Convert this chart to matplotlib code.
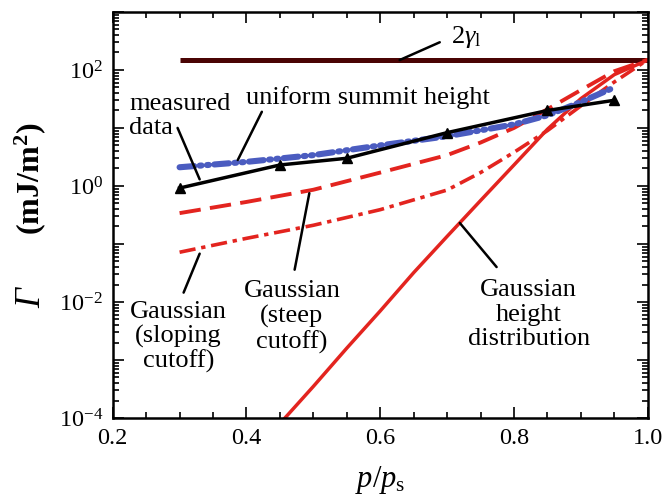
import matplotlib
matplotlib.use("Agg")
import matplotlib.pyplot as plt
import numpy as np
from matplotlib.ticker import LogLocator, FuncFormatter, MultipleLocator, NullFormatter

plt.rcParams['font.family'] = ['Liberation Serif', 'DejaVu Serif']
plt.rcParams['mathtext.fontset'] = 'custom'
plt.rcParams['mathtext.rm'] = 'Liberation Serif'
plt.rcParams['mathtext.it'] = 'Liberation Serif:italic'
plt.rcParams['mathtext.bf'] = 'Liberation Serif:bold'

# measured adhesion energy
p_meas = [0.30, 0.45, 0.55, 0.70, 0.85, 0.95]
g_meas = [0.92, 2.3, 3.0, 8.3, 20.0, 30.0]

# uniform summit height model
p_unif = [0.30, 0.40, 0.50, 0.60, 0.70, 0.80, 0.85, 0.90, 0.95]
g_unif = [2.1, 2.6, 3.4, 5.0, 7.2, 11.5, 16.5, 28.0, 50.0]

# Gaussian, steep cutoff
p_steep = [0.30, 0.40, 0.50, 0.60, 0.70, 0.75, 0.80, 0.85, 0.90, 0.95, 1.00]
g_steep = [0.34, 0.53, 0.86, 1.7, 3.4, 5.6, 10.0, 21.0, 45.0, 95.0, 150.0]

# Gaussian, sloping cutoff
p_slope = [0.30, 0.40, 0.50, 0.60, 0.70, 0.75, 0.80, 0.85, 0.90, 0.95, 1.00]
g_slope = [0.072, 0.125, 0.21, 0.39, 0.85, 1.7, 3.8, 9.0, 24.0, 62.0, 150.0]

# Gaussian height distribution
p_gauss = [0.45, 0.50, 0.55, 0.60, 0.65, 0.70, 0.75, 0.80, 0.85, 0.90, 0.95, 1.00]
g_gauss = [8e-5, 3.5e-4, 1.6e-3, 7e-3, 0.032, 0.135, 0.56, 2.3, 9.5, 32.0, 83.0, 148.0]

# 2 x liquid surface tension
p_gamma = [0.30, 1.00]
g_gamma = [150.0, 150.0]

red = '#e3241f'
fig = plt.figure(figsize=(6.63, 4.97), dpi=100)
ax = fig.add_axes([0.170, 0.159, 0.807, 0.817])

ax.plot(p_gamma, g_gamma, color='#4a0404', lw=3.6, solid_capstyle='butt')
ax.plot(p_gauss, g_gauss, color=red, lw=2.5)
ax.plot(p_slope, g_slope, color=red, lw=2.6, dashes=(4.5, 1.6, 1.2, 1.6))
ax.plot(p_steep, g_steep, color=red, lw=2.8, dashes=(5.5, 2.4))
ax.plot(p_unif, g_unif, color='#4b5cc0', lw=4.4, dashes=(2.4, 0.9, 0.3, 0.9, 0.3, 0.9),
        dash_capstyle='round')
ax.plot(p_meas, g_meas, color='black', lw=2.5, marker='^', ms=7.5)

ax.set_yscale('log')
ax.set_xlim(0.2, 1.0)
ax.set_ylim(1e-4, 1e3)

ax.xaxis.set_major_locator(MultipleLocator(0.2))
ax.xaxis.set_minor_locator(MultipleLocator(0.05))
ax.xaxis.set_major_formatter(FuncFormatter(lambda v, _: f'{v:.1f}'))
ax.yaxis.set_major_locator(LogLocator(base=10, numticks=20))
ax.yaxis.set_minor_locator(LogLocator(base=10, subs=np.arange(2, 10), numticks=20))
ax.yaxis.set_minor_formatter(NullFormatter())


def ylab(v, _):
    e = int(round(np.log10(v)))
    return r'$10^{%d}$' % e if e % 2 == 0 else ''


ax.yaxis.set_major_formatter(FuncFormatter(ylab))
ax.tick_params(which='both', direction='in', top=True, right=True, labelsize=17.5, width=1.2)
ax.tick_params(which='major', length=8, pad=7)
ax.tick_params(which='minor', length=4)
for s in ax.spines.values():
    s.set_linewidth(1.8)

ax.set_xlabel(r'$p/p_{\rm s}$', fontsize=22, labelpad=11)
fig.text(0.048, 0.40, 'Γ', rotation=90, fontsize=25, ha='center', va='center',
         fontstyle='italic')
fig.text(0.045, 0.64, r'(mJ/m$^{\mathbf{2}}$)', rotation=90, fontsize=23, ha='center', va='center',
         fontweight='bold')

lead = dict(arrowstyle='-', color='black', lw=1.8, shrinkA=0, shrinkB=0)
tsize = 19
ax.annotate('', xy=(0.629, 148), xytext=(0.689, 300), arrowprops=lead)
ax.text(0.706, 370, r'2$\gamma_{\rm l}$', fontsize=tsize, va='center', ha='left')

ax.annotate('', xy=(0.330, 1.3), xytext=(0.297, 10.0), arrowprops=lead)
ax.text(0.225, 16, 'measured\ndata', fontsize=tsize, ha='left', va='center', linespacing=1.15)

ax.annotate('', xy=(0.387, 2.8), xytext=(0.423, 19.0), arrowprops=lead)
ax.text(0.400, 33, 'uniform summit height', fontsize=tsize, ha='left', va='center')

ax.annotate('', xy=(0.330, 0.068), xytext=(0.306, 0.0145), arrowprops=lead)
ax.text(0.298, 2.5e-3, 'Gaussian\n(sloping\ncutoff)', fontsize=tsize, ha='center', va='center',
        linespacing=1.1)

ax.annotate('', xy=(0.494, 0.75), xytext=(0.472, 0.036), arrowprops=lead)
ax.text(0.468, 5.5e-3, 'Gaussian\n(steep\ncutoff)', fontsize=tsize, ha='center', va='center',
        linespacing=1.15)

ax.annotate('', xy=(0.719, 0.23), xytext=(0.774, 0.04), arrowprops=lead)
ax.text(0.822, 6e-3, 'Gaussian\nheight\ndistribution', fontsize=tsize, ha='center', va='center',
        linespacing=1.15)

fig.savefig('out.png', dpi=100)
